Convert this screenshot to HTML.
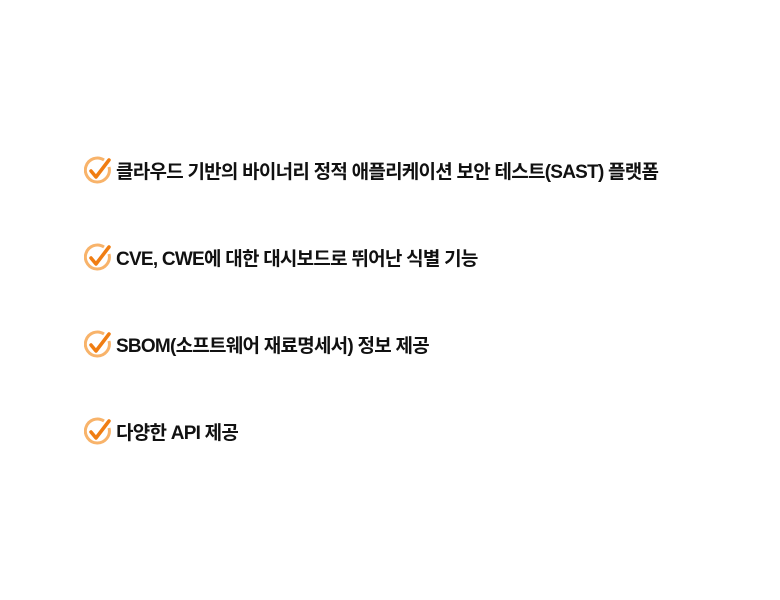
<!DOCTYPE html>
<html><head><meta charset="utf-8"><style>
body{margin:0;width:780px;height:600px;background:#fff;position:relative;overflow:hidden;font-family:"Liberation Sans","Noto Sans CJK KR",sans-serif;}
.r{position:absolute;left:84px;height:36px;display:flex;align-items:center;}
.r svg{width:28px;height:36px;flex:none;}
.t{margin-left:4px;font-size:19px;font-weight:bold;color:#111;letter-spacing:-0.75px;white-space:nowrap;}
</style></head><body>
<div class="r" style="top:152px"><svg viewBox="0 0 28 36"><path d="M20 8 A12 12 0 1 0 25 15" fill="none" stroke="#f8b36a" stroke-width="3"/><path d="M7 19 L12 25 L25 8" fill="none" stroke="#f07d12" stroke-width="3.5" stroke-linecap="round" stroke-linejoin="round"/></svg><span class="t">클라우드 기반의 바이너리 정적 애플리케이션 보안 테스트(SAST) 플랫폼</span></div>
<div class="r" style="top:239px"><svg viewBox="0 0 28 36"><path d="M20 8 A12 12 0 1 0 25 15" fill="none" stroke="#f8b36a" stroke-width="3"/><path d="M7 19 L12 25 L25 8" fill="none" stroke="#f07d12" stroke-width="3.5" stroke-linecap="round" stroke-linejoin="round"/></svg><span class="t">CVE, CWE에 대한 대시보드로 뛰어난 식별 기능</span></div>
<div class="r" style="top:326px"><svg viewBox="0 0 28 36"><path d="M20 8 A12 12 0 1 0 25 15" fill="none" stroke="#f8b36a" stroke-width="3"/><path d="M7 19 L12 25 L25 8" fill="none" stroke="#f07d12" stroke-width="3.5" stroke-linecap="round" stroke-linejoin="round"/></svg><span class="t">SBOM(소프트웨어 재료명세서) 정보 제공</span></div>
<div class="r" style="top:413px"><svg viewBox="0 0 28 36"><path d="M20 8 A12 12 0 1 0 25 15" fill="none" stroke="#f8b36a" stroke-width="3"/><path d="M7 19 L12 25 L25 8" fill="none" stroke="#f07d12" stroke-width="3.5" stroke-linecap="round" stroke-linejoin="round"/></svg><span class="t">다양한 API 제공</span></div>
</body></html>
